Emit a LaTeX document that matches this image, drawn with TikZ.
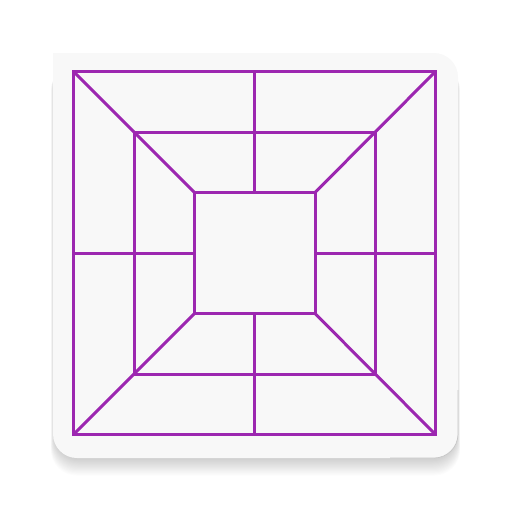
\documentclass[tikz,border=0pt]{standalone}
\definecolor{boardpurple}{RGB}{156,39,176}
\definecolor{cardfill}{RGB}{248,248,248}
\tikzset{
  boardline/.style={draw=boardpurple, line width=3pt, line join=miter, line cap=rect},
}
\begin{document}
\begin{tikzpicture}[x=1pt,y=-1pt]
\useasboundingbox (0,0) rectangle (512,512);
% shadow
\foreach \i in {1,...,16}{
  \fill[black, opacity=0.012, rounded corners=26pt]
    (54-0.2*\i,60+0.3*\i) rectangle (457+0.2*\i,458+1.1*\i);
}
% card
\fill[cardfill, rounded corners=24pt] (53,53) rectangle (458,458);
\fill[cardfill] (53,53) rectangle (90,90);
\draw[black!22, line width=0.7pt, rounded corners=24pt] (458,390) -- (458,458) -- (390,458);
% corners
\coordinate (o1) at (73.5,71.5);
\coordinate (o2) at (435.5,71.5);
\coordinate (o3) at (435.5,434.5);
\coordinate (o4) at (73.5,434.5);
\coordinate (m1) at (134,132);
\coordinate (m2) at (375,132);
\coordinate (m3) at (375,374);
\coordinate (m4) at (134,374);
\coordinate (i1) at (194.5,192.5);
\coordinate (i2) at (315,192.5);
\coordinate (i3) at (315,313.5);
\coordinate (i4) at (194.5,313.5);
\coordinate (ot) at (254.5,71.5);
\coordinate (ob) at (254.5,434.5);
\coordinate (ol) at (73.5,253);
\coordinate (or) at (435.5,253);
\coordinate (it) at (254.5,192.5);
\coordinate (ib) at (254.5,313.5);
\coordinate (il) at (194.5,253);
\coordinate (ir) at (315,253);
% squares
\draw[boardline] (o1) -- (o2) -- (o3) -- (o4) -- cycle;
\draw[boardline] (m1) -- (m2) -- (m3) -- (m4) -- cycle;
\draw[boardline] (i1) -- (i2) -- (i3) -- (i4) -- cycle;
% diagonals
\draw[boardline, line cap=butt] (o1) -- (i1);
\draw[boardline, line cap=butt] (o2) -- (i2);
\draw[boardline, line cap=butt] (o3) -- (i3);
\draw[boardline, line cap=butt] (o4) -- (i4);
% midlines
\draw[boardline, line cap=butt] (ot) -- (it);
\draw[boardline, line cap=butt] (ob) -- (ib);
\draw[boardline, line cap=butt] (ol) -- (il);
\draw[boardline, line cap=butt] (or) -- (ir);
\end{tikzpicture}
\end{document}
